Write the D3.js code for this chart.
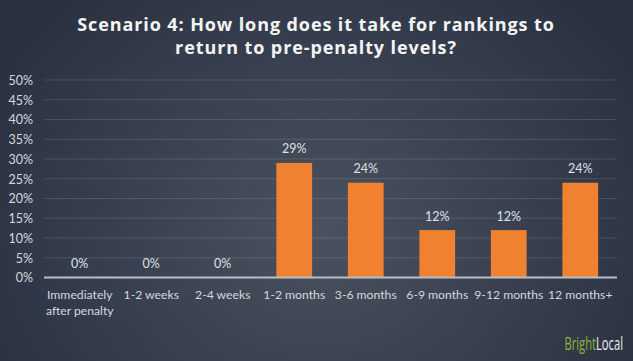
<!DOCTYPE html>
<html><head><meta charset="utf-8">
<script src="https://cdn.jsdelivr.net/npm/d3@7"></script>
<style>html,body{margin:0;padding:0;background:#2f3746;}svg{display:block;}</style>
</head><body>
<script>
const categories = [["Immediately","after penalty"],["1-2 weeks"],["2-4 weeks"],["1-2 months"],["3-6 months"],["6-9 months"],["9-12 months"],["12 months+"]];
const values = [0, 0, 0, 29, 24, 12, 12, 24];
const yTicks = [0, 5, 10, 15, 20, 25, 30, 35, 40, 45, 50];
const titleLines = ["Scenario 4: How long does it take for rankings to", "return to pre-penalty levels?"];

const W = 633, H = 361;
const svg = d3.select("body").append("svg").attr("width", W).attr("height", H);
const defs = svg.append("defs");
const rg = defs.append("radialGradient").attr("id","bg").attr("gradientUnits","userSpaceOnUse")
  .attr("cx", 320).attr("cy", 230).attr("r", 380).attr("gradientTransform","translate(320 230) scale(1 0.85) translate(-320 -230)");
rg.append("stop").attr("offset","0%").attr("stop-color","#4a525f");
rg.append("stop").attr("offset","45%").attr("stop-color","#3b4352");
rg.append("stop").attr("offset","100%").attr("stop-color","#293141");
svg.append("rect").attr("width",W).attr("height",H).attr("fill","url(#bg)");

const idx = categories.map((d,i)=>i);
const x = d3.scaleBand().domain(idx).range([44, 616]).paddingInner(0.5).paddingOuter(0.25);
const y = d3.scaleLinear().domain([0, 50]).range([277.5, 80]);

// title
svg.append("g").selectAll("text").data(titleLines).join("text")
  .attr("x", 316).attr("y", (d,i)=>31 + i*23)
  .attr("text-anchor","middle").attr("fill","#f4f4f4")
  .style("font-family","'Open Sans', 'DejaVu Sans', sans-serif").style("font-weight","bold")
  .style("font-size","18px").style("letter-spacing","0.9px")
  .text(d=>d);

// gridlines
svg.append("g").selectAll("line").data(yTicks.filter(t=>t>0)).join("line")
  .attr("x1",44).attr("x2",617).attr("y1",d=>y(d)).attr("y2",d=>y(d))
  .attr("stroke","rgba(255,255,255,0.12)").attr("stroke-width",1);

// y axis
const yAxis = d3.axisLeft(y).tickValues(yTicks).tickFormat(d=>d+"%").tickSize(0).tickPadding(0);
const yg = svg.append("g").attr("transform","translate(33,0)").call(yAxis);
yg.select(".domain").remove();
yg.selectAll("text").attr("fill","#d4d8de").attr("dy","0.35em")
  .style("font-family","Lato, 'Open Sans', sans-serif").style("font-size","12.5px");

// bars
svg.append("g").selectAll("rect").data(values).join("rect")
  .attr("x",(d,i)=>x(i)).attr("width",x.bandwidth())
  .attr("y",d=>y(d)).attr("height",d=>y(0)-y(d)).attr("fill","#ef8130");

// baseline
svg.append("line").attr("x1",44).attr("x2",617).attr("y1",y(0)).attr("y2",y(0))
  .attr("stroke","#b9bec5").attr("stroke-width",2);

// value labels
svg.append("g").selectAll("text").data(values).join("text")
  .attr("x",(d,i)=>x(i)+x.bandwidth()/2).attr("y",d=>y(d)-9.5)
  .attr("text-anchor","middle").attr("fill","#dde1e6")
  .style("font-family","Lato, 'Open Sans', sans-serif").style("font-size","12.5px")
  .text(d=>d+"%");

// x axis labels
const xAxis = d3.axisBottom(x).tickSize(0).tickPadding(0).tickFormat(()=> "");
const xg = svg.append("g").attr("transform",`translate(0,${y(0)})`).call(xAxis);
xg.select(".domain").remove();
xg.selectAll(".tick").each(function(i){
  const t = d3.select(this).select("text").text(null).attr("y",0).attr("dy",null)
    .attr("fill","#d4d8de").style("font-family","Lato, 'Open Sans', sans-serif").style("font-size","12.2px");
  categories[i].forEach((line,k)=>{
    t.append("tspan").attr("x",0).attr("y",21.5 + k*15.5).text(line);
  });
});

// logo (condensed wordmark)
const logoG = svg.append("g").attr("transform","translate(623,350) scale(0.64,1)");
const logo = logoG.append("text").attr("x",0).attr("y",0).attr("text-anchor","end")
  .style("font-family","'Open Sans', sans-serif").style("font-size","17.5px");
logo.append("tspan").attr("fill","#8db43a").text("Bright");
logo.append("tspan").attr("fill","#e8ecef").text("Local");
</script>
</body></html>
